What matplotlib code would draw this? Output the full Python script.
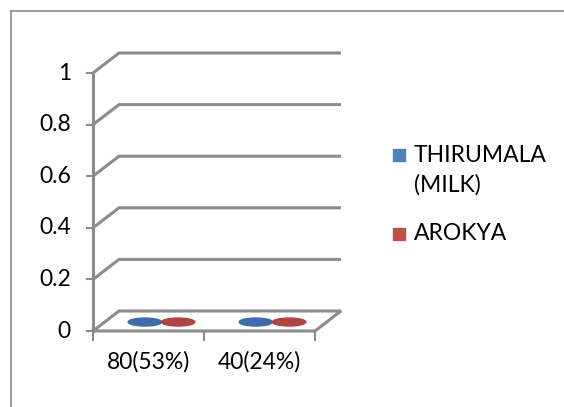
import matplotlib
matplotlib.use("Agg")
import matplotlib.pyplot as plt
from matplotlib.patches import Ellipse, Rectangle, Polygon
from matplotlib.lines import Line2D

categories = ["80(53%)", "40(24%)"]
series_names = ["THIRUMALA\n(MILK)", "AROKYA"]
thirumala = [0, 0]
arokya = [0, 0]
yticks = [0, 0.2, 0.4, 0.6, 0.8, 1]
ytick_labels = ["0", "0.2", "0.4", "0.6", "0.8", "1"]

colors = ["#4F81BD", "#C0504D"]
ell_colors = ["#3E6DA8", "#B2443F"]
grid_col = "#8C8C8C"
font = ["Lato", "DejaVu Sans"]
fs = 16.5

W, H = 564, 407
fig = plt.figure(figsize=(W / 100, H / 100), dpi=100)

# outer chart border (left and top visible)
fig.add_artist(Line2D([11 / W, 11 / W], [1 - 11 / H, -0.01], color="#8A8A8A", lw=1.2))
fig.add_artist(Line2D([11 / W, 1.01], [1 - 11 / H, 1 - 11 / H], color="#8A8A8A", lw=1.2))

# front plane of the 3D plot
x0, x1 = 93, 315
y0, y1 = 331, 73
ax = fig.add_axes([x0 / W, 1 - y0 / H, (x1 - x0) / W, (y0 - y1) / H])
ncat = len(categories)
ax.set_xlim(0, ncat)
ax.set_ylim(0, 1)
ax.axis("off")

DX = 26 / ((x1 - x0) / ncat)   # depth offset in data units
DY = 20 / (y0 - y1)

lw = 2.2
# back-wall gridlines
for v in yticks[1:]:
    ax.plot([0, DX, ncat + DX], [v, v + DY, v + DY], color=grid_col, lw=lw,
            solid_capstyle="butt", clip_on=False)
# floor
floor = Polygon([[0, 0], [DX, DY], [ncat + DX, DY], [ncat, 0]], closed=True,
                fill=False, edgecolor=grid_col, lw=lw, clip_on=False)
ax.add_patch(floor)
# y axis line and ticks
ax.plot([0, 0], [0, 1], color=grid_col, lw=lw, clip_on=False)
tl = 6 / ((x1 - x0) / ncat)
for v, lab in zip(yticks, ytick_labels):
    ax.plot([-tl, 0], [v, v], color=grid_col, lw=1.5, clip_on=False)
    ax.annotate(lab, (0, v), xytext=(-22, 0), textcoords="offset pixels",
                ha="right", va="center", fontsize=fs, family=font)
# x ticks
ax.plot([0, ncat], [0, 0], color=grid_col, lw=1.5, clip_on=False)
for i in range(ncat + 1):
    ax.plot([i, i], [0, -9 / (y0 - y1)], color=grid_col, lw=1.5, clip_on=False)
for i, lab in enumerate(categories):
    ax.annotate(lab, (i + 0.5, 0), xytext=(0, -31), textcoords="offset pixels",
                ha="center", va="center", fontsize=fs, family=font)

# cylinders (zero height -> just the discs)
bw = 0.3
eh = 8 / (y0 - y1)
for s, vals in enumerate([thirumala, arokya]):
    for i, v in enumerate(vals):
        cx = i + 0.5 + (s - 0.5) * bw + DX / 2
        cy = DY / 2 - 0.004
        if v > 0:
            ax.add_patch(Rectangle((cx - bw / 2, cy), bw, v, color=colors[s], clip_on=False))
        ax.add_patch(Ellipse((cx, cy + v), bw, eh, color=ell_colors[s], clip_on=False))

# legend
leg = [(155, "THIRUMALA", "(MILK)"), (234, "AROKYA", None)]
for s, (yc, l1, l2) in enumerate(leg):
    fig.add_artist(Rectangle((393 / W, 1 - (yc + 6) / H), 12 / W, 12 / H,
                             color=colors[s], transform=fig.transFigure))
    fig.text(414 / W, 1 - yc / H, l1, ha="left", va="center", fontsize=fs, family=font)
    if l2:
        fig.text(414 / W, 1 - (yc + 30) / H, l2, ha="left", va="center", fontsize=fs, family=font)

fig.savefig("out.png", dpi=100)
